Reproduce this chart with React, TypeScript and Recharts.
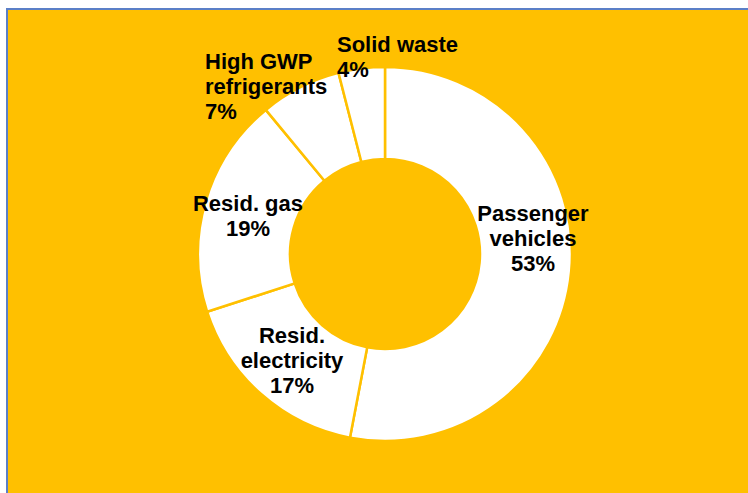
import { PieChart, Pie, Cell } from 'recharts'

const categories = [
  'Passenger\nvehicles',
  'Resid.\nelectricity',
  'Resid. gas',
  'High GWP\nrefrigerants',
  'Solid waste',
]
const shares = [53, 17, 19, 7, 4]

const data = categories.map((name, i) => ({ name, value: shares[i] }))

const ORANGE = '#FFC000'
const CX = 385
const CY = 254

// label placement relative to the pie centre: [dx, dy of first baseline, anchor]
const labelLayout: [number, number, 'middle' | 'start'][] = [
  [148, -33, 'middle'],
  [-93, 89, 'middle'],
  [-137, -43, 'middle'],
  [-180, -185, 'start'],
  [-48, -202, 'start'],
]

function renderLabel(props: any) {
  const { index } = props
  const cx = props.cx ?? CX
  const cy = props.cy ?? CY
  const [dx, dy, anchor] = labelLayout[index]
  const lines = [...data[index].name.split('\n'), `${data[index].value}%`]
  return (
    <text
      x={cx + dx}
      y={cy + dy}
      textAnchor={anchor}
      fontFamily="'Liberation Sans', Arial, sans-serif"
      fontWeight="bold"
      fontSize={22}
      fill="#000"
    >
      {lines.map((l, i) => (
        <tspan key={i} x={cx + dx} dy={i === 0 ? 0 : 25}>{l}</tspan>
      ))}
    </text>
  )
}

export default function App() {
  return (
    <div style={{ position: 'absolute', left: 0, top: 0, width: 748, height: 493, overflow: 'hidden' }}>
      <div
        style={{
          position: 'absolute',
          left: 6,
          top: 8,
          width: 742,
          height: 485,
          boxSizing: 'border-box',
          borderLeft: '2px solid #5B7FC7',
          borderTop: '2px solid #5B7FC7',
          background: ORANGE,
        }}
      />
      <div style={{ position: 'absolute', left: 0, top: 0 }}>
        <PieChart width={748} height={493} margin={{ top: 0, right: 0, bottom: 0, left: 0 }}>
          <Pie
            data={data}
            dataKey="value"
            nameKey="name"
            cx={CX}
            cy={CY}
            innerRadius={95}
            outerRadius={187}
            startAngle={90}
            endAngle={-270}
            stroke={ORANGE}
            strokeWidth={2.5}
            label={renderLabel}
            labelLine={false}
            isAnimationActive={false}
          >
            {data.map((d) => (
              <Cell key={d.name} fill="#FFFFFF" />
            ))}
          </Pie>
        </PieChart>
      </div>
    </div>
  )
}
